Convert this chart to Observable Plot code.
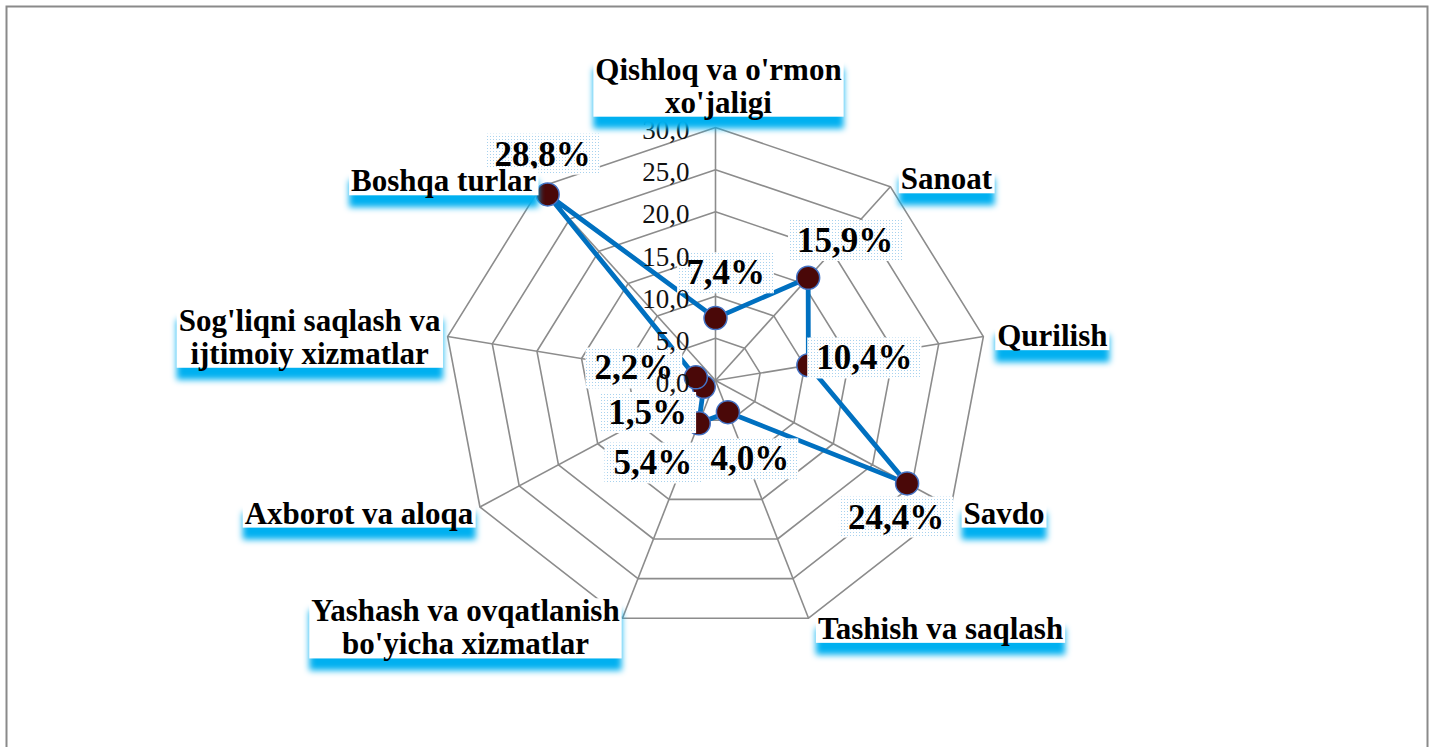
<!DOCTYPE html>
<html>
<head>
<meta charset="utf-8">
<script src="https://cdn.jsdelivr.net/npm/d3@7"></script>
<script src="https://cdn.jsdelivr.net/npm/@observablehq/plot@0.6"></script>
<style>
  body { margin: 0; background: #fff; }
  #chart { position: absolute; left: 0; top: 0; }
</style>
</head>
<body>
<div id="chart"></div>
<script>
// ---------- data ----------
const categories = [
  "Qishloq va o'rmon\nxo'jaligi",
  "Sanoat",
  "Qurilish",
  "Savdo",
  "Tashish va saqlash",
  "Yashash va ovqatlanish\nbo'yicha xizmatlar",
  "Axborot va aloqa",
  "Sog'liqni saqlash va\nijtimoiy xizmatlar",
  "Boshqa turlar"
];
const values = [7.4, 15.9, 10.4, 24.4, 4.0, 5.4, 1.5, 2.2, 28.8];
const ticks = [0, 5, 10, 15, 20, 25, 30];
const tickLabels = ["0,0", "5,0", "10,0", "15,0", "20,0", "25,0", "30,0"];

// ---------- layout (pixel offsets of labels) ----------
const valueLabelOffsets = [[10,-45],[37,-37],[56,-7],[-11,34],[22,47],[-46,40],[-56,26],[-62,-9],[-5,-40]];
const categoryLabelOffsets = [[3,-42],[56,-8],[69,-1],[53,6],[132,10],[-157,9],[-121,6],[-138,0],[-97,-6]];

const W = 1436, H = 747;
const cx = 715, cy = 380, rx = 272, ry = 253;
const maxV = 30;
const kx = rx / maxV, ky = ry / maxV;

const n = categories.length;
const angle = i => (2 * Math.PI * i) / n;
const px = (v, i) => v * Math.sin(angle(i));
const py = (v, i) => v * Math.cos(angle(i));

// grid rings
const rings = [];
ticks.filter(t => t > 0).forEach(t => {
  for (let i = 0; i <= n; i++) rings.push({ring: t, x: px(t, i % n), y: py(t, i % n)});
});
const spokes = categories.map((c, i) => ({x1: 0, y1: 0, x2: px(maxV, i), y2: py(maxV, i)}));

const series = values.map((v, i) => ({cat: categories[i], v, x: px(v, i), y: py(v, i), i}));
const seriesClosed = [...series, series[0]];

const fmt = v => v.toFixed(1).replace(".", ",") + "%";

const catData = categories.map((c, i) => ({c, x: px(maxV, i), y: py(maxV, i), dx: categoryLabelOffsets[i][0], dy: categoryLabelOffsets[i][1]}));
const valData = series.map((d, i) => ({...d, label: fmt(d.v), dx: valueLabelOffsets[i][0], dy: valueLabelOffsets[i][1]}));
const tickData = ticks.map((t, i) => ({t, label: tickLabels[i]}));

const serif = "Liberation Serif";

const marks = [
  Plot.frame({stroke: "#8a8a8a", strokeWidth: 2, insetLeft: 6, insetTop: 6, insetRight: 9, insetBottom: -20}),
  Plot.line(rings, {x: "x", y: "y", z: "ring", stroke: "#8c8c8c", strokeWidth: 1.6}),
  Plot.link(spokes, {x1: "x1", y1: "y1", x2: "x2", y2: "y2", stroke: "#8c8c8c", strokeWidth: 1.6}),
  Plot.line(seriesClosed, {x: "x", y: "y", stroke: "#0070c0", strokeWidth: 4.8, curve: "linear"}),
  Plot.dot(series, {x: "x", y: "y", r: 11.5, fill: "#4a0808", stroke: "#4472c4", strokeWidth: 1.5}),
];
valData.forEach(d => {
  marks.push(Plot.text([d], {x: "x", y: "y", text: "label", dx: d.dx, dy: d.dy,
    fontFamily: serif, fontWeight: "bold", fontSize: 35, fill: "#000"}));
});
marks.push(Plot.text(tickData, {x: () => 0, y: "t", text: "label", textAnchor: "end", dx: -26, dy: 3,
    fontFamily: serif, fontSize: 27, fill: "#111"}));
catData.forEach(d => {
  marks.push(Plot.text([d], {x: "x", y: "y", text: "c", dx: d.dx, dy: d.dy, lineHeight: 1.07,
    fontFamily: serif, fontWeight: "bold", fontSize: 31, fill: "#000"}));
});

const chart = Plot.plot({
  width: W,
  height: H,
  margin: 0,
  x: {domain: [-cx / kx, (W - cx) / kx], axis: null},
  y: {domain: [-(H - cy) / ky, cy / ky], axis: null},
  style: {background: "#fff", overflow: "visible"},
  marks
});

document.getElementById("chart").append(chart);

// ---------- label backgrounds ----------
const NS = "http://www.w3.org/2000/svg";
const defs = document.createElementNS(NS, "defs");
defs.innerHTML = `
  <pattern id="dots" width="3" height="3" patternUnits="userSpaceOnUse">
    <rect width="3" height="3" fill="#ffffff"/>
    <rect x="1" y="1" width="1" height="1" fill="#a8d2ee"/>
  </pattern>`;
chart.insertBefore(defs, chart.firstChild);

const valueSet = new Set(valData.map(d => d.label));
const catSet = new Set(categories.map(c => c.replace(/\n/g, "")));
const sr = chart.getBoundingClientRect();

function boxFor(t, padX, padTop, padBottom, attrs) {
  const b = t.getBoundingClientRect();
  const r = document.createElementNS(NS, "rect");
  r.setAttribute("x", b.left - sr.left - padX);
  r.setAttribute("y", b.top - sr.top - padTop);
  r.setAttribute("width", b.width + 2 * padX);
  r.setAttribute("height", b.height + padTop + padBottom);
  for (const k in attrs) r.setAttribute(k, attrs[k]);
  const g = t.parentNode;
  g.parentNode.insertBefore(r, g);
}
Array.from(chart.querySelectorAll("text")).forEach(t => {
  const s = t.textContent;
  if (valueSet.has(s)) {
    boxFor(t, 9, 1, 1, {fill: "url(#dots)"});
  } else if (catSet.has(s)) {
    boxFor(t, 2, -5, -3, {fill: "#fff", style: "filter: drop-shadow(0px 12px 3px #00b0f0)"});
  }
});
</script>
</body>
</html>
